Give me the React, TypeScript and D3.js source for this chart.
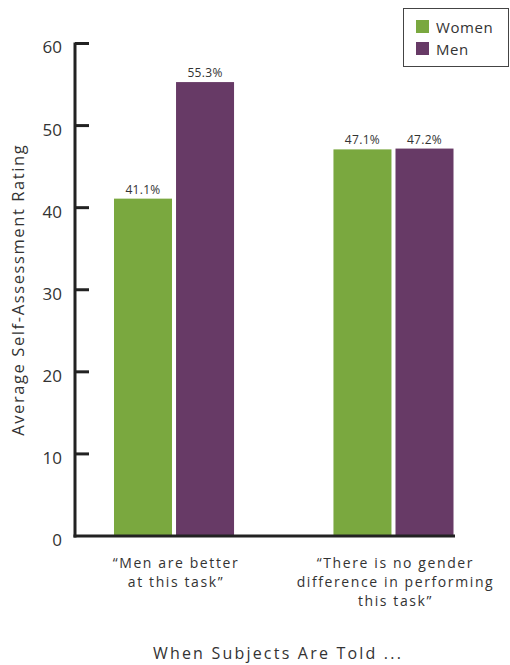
import React from "react";
import * as d3 from "d3";

const categories = ["men", "none"];
const categoryLabels = [
  ["\u201cMen are better", "at this task\u201d"],
  ["\u201cThere is no gender", "difference in performing", "this task\u201d"],
];
const series = ["Women", "Men"];
const womenValues = [41.1, 47.1];
const menValues = [55.3, 47.2];
const yTicks = [0, 10, 20, 30, 40, 50, 60];
const colors = ["#7aa83f", "#673a66"];

const FONT = "'Open Sans', 'DejaVu Sans', sans-serif";
const TEXT = "#333";

export default function App() {
  const W = 510, H = 665;
  const x0 = 75, xEnd = 455;
  const y = d3.scaleLinear().domain([0, 60]).range([536, 43.5]);
  const xg = d3.scaleBand().domain(categories).range([x0, 492.5]).paddingInner(0.453).paddingOuter(0.1777);
  const xs = d3.scaleBand().domain(series).range([0, xg.bandwidth()]).paddingInner(0.065);
  const values = [womenValues, menValues];

  return (
    <svg width={W} height={H} style={{ position: "absolute", left: 0, top: 0 }} fontFamily={FONT}>
      <rect width={W} height={H} fill="#fff" />
      {categories.map((c, ci) =>
        series.map((s, si) => {
          const v = values[si][ci];
          const bx = (xg(c) as number) + (xs(s) as number);
          return (
            <g key={c + s}>
              <rect x={bx} y={y(v)} width={xs.bandwidth()} height={y(0) - y(v)} fill={colors[si]} />
              <text x={bx + xs.bandwidth() / 2} y={y(v) - 5} textAnchor="middle" fontSize={12} letterSpacing={0.3} fill={TEXT}>
                {v.toFixed(1)}%
              </text>
            </g>
          );
        })
      )}
      <line x1={x0} x2={x0} y1={y(60) - 1} y2={y(0) + 1.5} stroke="#222" strokeWidth={3} />
      <line x1={x0 - 1.5} x2={xEnd} y1={y(0)} y2={y(0)} stroke="#222" strokeWidth={3} />
      {yTicks.map((t) => (
        <g key={t}>
          {t > 0 && <line x1={x0} x2={x0 + 14} y1={y(t)} y2={y(t)} stroke="#222" strokeWidth={3} />}
          <text x={62} y={y(t) + 4} dy="0.35em" textAnchor="end" fontSize={17} fill={TEXT}>
            {t}
          </text>
        </g>
      ))}
      <text
        transform={`translate(24,${y(30)}) rotate(-90)`}
        textAnchor="middle"
        fontSize={16.5}
        letterSpacing={1.6}
        fill={TEXT}
      >
        Average Self-Assessment Rating
      </text>
      {categories.map((c, ci) => (
        <text key={c} textAnchor="middle" fontSize={14} letterSpacing={1.6} fill={TEXT}>
          {categoryLabels[ci].map((line, li) => (
            <tspan key={li} x={(xg(c) as number) + xg.bandwidth() / 2 + 2} y={568 + li * 19}>
              {line}
            </tspan>
          ))}
        </text>
      ))}
      <text x={278} y={659} textAnchor="middle" fontSize={16} letterSpacing={2.2} fill={TEXT}>
        When Subjects Are Told ...
      </text>
      <rect x={403.5} y={8.5} width={105} height={58} fill="#fff" stroke="#444" strokeWidth={1} />
      {series.map((s, si) => (
        <g key={s}>
          <rect x={416} y={20 + si * 22} width={13} height={13} fill={colors[si]} />
          <text x={436} y={32.5 + si * 22} fontSize={15} letterSpacing={0.6} fill={TEXT}>
            {s}
          </text>
        </g>
      ))}
    </svg>
  );
}
